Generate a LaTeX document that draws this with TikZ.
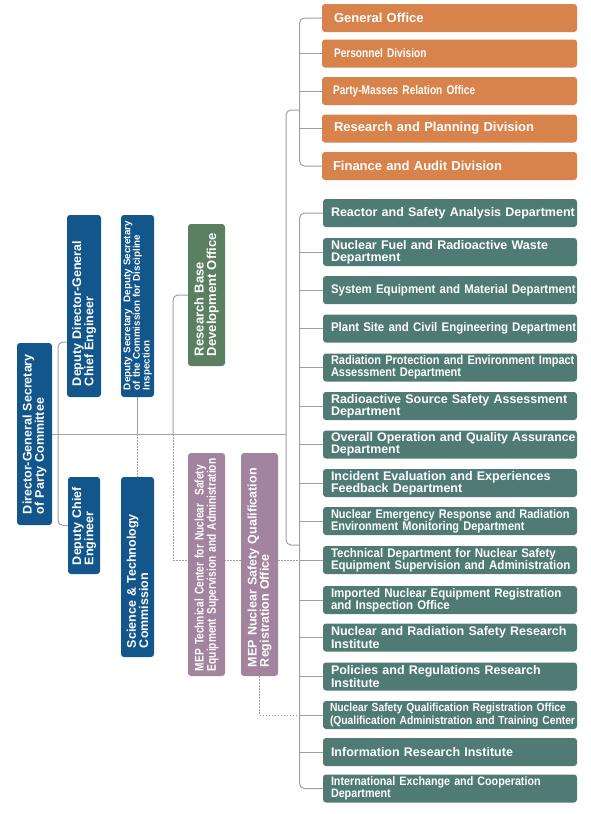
\documentclass[tikz,border=0pt]{standalone}
\usepackage{fontspec}
\setmainfont{Liberation Sans}
\newfontfamily\fnA[FakeStretch=0.92]{Liberation Sans}
\newfontfamily\fnB[FakeStretch=0.88]{Liberation Sans}
\newfontfamily\fnC[FakeStretch=0.81]{Liberation Sans}
\usetikzlibrary{backgrounds}
\definecolor{orng}{HTML}{D8834B}
\definecolor{tealbox}{HTML}{4F7B74}
\definecolor{bluebox}{HTML}{12568C}
\definecolor{greenbox}{HTML}{5B8061}
\definecolor{purplebox}{HTML}{A3849F}
\definecolor{linegray}{HTML}{A0A0A0}
\newcommand\oneline[1]{\mbox{#1}}
\newcommand\twolines[2]{\mbox{#1}\\\mbox{#2}}
\begin{document}
\begin{tikzpicture}[x=1pt,y=-1pt,
  conn/.style={draw=linegray,line width=1pt,rounded corners=5pt},
  dotconn/.style={draw=linegray,line width=1pt,dash pattern=on 1.5pt off 1.5pt},
  fN/.style={font=\fontsize{#1}{12.3}\selectfont\bfseries},
  fA/.style={font=\fontsize{#1}{12.3}\selectfont\fnA\bfseries},
  fB/.style={font=\fontsize{#1}{12.3}\selectfont\fnB\bfseries},
  fC/.style={font=\fontsize{#1}{12.3}\selectfont\fnC\bfseries},
  rbox/.style={rounded corners=3pt,minimum width=254pt,minimum height=28pt,inner ysep=1pt,align=left,text=white},
  obox/.style={rbox,fill=orng,inner xsep=12pt,text width=231pt,minimum width=255pt},
  gbox/.style={rbox,fill=tealbox,inner xsep=8pt,text width=238pt},
  vbox/.style={rotate=90,rounded corners=3pt,align=left,text=white,inner ysep=1pt},
]
\useasboundingbox (0,0) rectangle (591,814);

% orange column
\node[obox,fN=13] (go) at (449.5,18) {\oneline{General Office}};
\node[obox,fC=12.5] (pd) at (449.5,53.5) {\oneline{Personnel Division}};
\node[obox,fC=12.5,inner xsep=11pt,text width=233pt] (pm) at (449.5,91) {\oneline{Party-Masses Relation Office}};
\node[obox,fN=13] (rp) at (449.5,128.5) {\oneline{Research and Planning Division}};
\node[obox,fN=13,inner xsep=11pt,text width=233pt] (fa) at (449.5,166) {\oneline{Finance and Audit Division}};

% teal column
\node[gbox,fN=12.5] (g1) at (450,213) {\oneline{Reactor and Safety Analysis Department}};
\node[gbox,fN=12.5] (g2) at (450,252) {\twolines{Nuclear Fuel and Radioactive Waste}{Department}};
\node[gbox,fA=12.5] (g3) at (450,290) {\oneline{System Equipment and Material Department}};
\node[gbox,fA=12.5] (g4) at (450,328.5) {\oneline{Plant Site and Civil Engineering Department}};
\node[gbox,fB=12.5] (g5) at (450,367.5) {\twolines{Radiation Protection and Environment Impact}{Assessment Department}};
\node[gbox,fN=12.5] (g6) at (450,406) {\twolines{Radioactive Source Safety Assessment}{Department}};
\node[gbox,fN=12.4] (g7) at (450,444.5) {\twolines{Overall Operation and Quality Assurance}{Department}};
\node[gbox,fN=12.5] (g8) at (450,483) {\twolines{Incident Evaluation and Experiences}{Feedback Department}};
\node[gbox,fB=12.5] (g9) at (450,521) {\twolines{Nuclear Emergency Response and Radiation}{Environment Monitoring Department}};
\node[gbox,fA=12.5] (g10) at (450,560) {\twolines{Technical Department for Nuclear Safety}{Equipment Supervision and Administration}};
\node[gbox,fA=12.5] (g11) at (450,600) {\twolines{Imported Nuclear Equipment Registration}{and Inspection Office}};
\node[gbox,fN=12.5] (g12) at (450,637.5) {\twolines{Nuclear and Radiation Safety Research}{Institute}};
\node[gbox,fN=12.5] (g13) at (450,676.5) {\twolines{Policies and Regulations Research}{Institute}};
\node[gbox,fB=11.7,inner xsep=7pt,text width=240pt] (g14) at (450,715) {\twolines{Nuclear Safety Qualification Registration Office}{(Qualification Administration and Training Center )}};
\node[gbox,fN=12.5] (g15) at (450,752) {\oneline{Information Research Institute}};
\node[gbox,fB=12.2] (g16) at (450,788.5) {\twolines{International Exchange and Cooperation}{Department}};

% vertical boxes
\node[vbox,fill=bluebox,fN=12.5,minimum width=182pt,minimum height=35pt,inner xsep=11pt,text width=160pt] (dg) at (34.5,434) {\twolines{Director-General Secretary}{of Party Committee}};
\node[vbox,fill=bluebox,fN=12.5,minimum width=182pt,minimum height=34pt,inner xsep=11pt,text width=160pt] (ddg) at (84,306) {\twolines{Deputy Director-General}{Chief Engineer}};
\node[vbox,fill=bluebox,font=\fontsize{9.8}{9.6}\selectfont\bfseries,minimum width=182pt,minimum height=33pt,inner xsep=7pt,text width=168pt] (dsec) at (137.5,306) {\mbox{Deputy Secretary\ \ Deputy Secretary}\\\mbox{of the Commission for Discipline}\\\mbox{Inspection}};
\node[vbox,fill=greenbox,fN=13,minimum width=142pt,minimum height=37pt,inner xsep=10pt,text width=122pt] (rb) at (206.5,295) {\twolines{Research Base}{Development Office}};
\node[vbox,fill=bluebox,fN=12.5,minimum width=97pt,minimum height=32pt,inner xsep=9pt,text width=79pt] (dce) at (84,525.5) {\twolines{Deputy Chief}{Engineer}};
\node[vbox,fill=bluebox,fN=12.5,minimum width=180pt,minimum height=33pt,inner xsep=9pt,text width=162pt] (stc) at (137.5,567) {\twolines{Science \& Technology}{Commission}};
\node[vbox,fill=purplebox,fC=12.5,minimum width=223pt,minimum height=37pt,inner xsep=5pt,text width=213pt] (mtc) at (206.5,564.5) {\twolines{MEP Technical Center for Nuclear\ \ Safety}{Equipment Supervision and Administration}};
\node[vbox,fill=purplebox,fN=12.5,minimum width=223pt,minimum height=37pt,inner xsep=9pt,text width=205pt] (mnsq) at (259.5,564.5) {\twolines{MEP Nuclear Safety Qualification}{Registration Office}};

\begin{scope}[on background layer]
\fill[white] (0,0) rectangle (591,814);
\coordinate (oj) at (299.5,110);
\coordinate (gj) at (299.5,545);
\coordinate (sb) at (286,545);
\coordinate (hm) at (286,434);
\coordinate (lv) at (58,434);
\coordinate (rbj) at (173,434);
\coordinate (ddga) at (67,342);
\draw[conn] (go.west) -| (oj) |- (fa.west);
\foreach \n in {pd,pm,rp} \draw[conn] (\n.west) -- (\n.west -| oj);
\draw[conn] (oj) -| (sb) -- (gj);
\draw[conn] (g1.west) -| (gj) |- (g16.west);
\foreach \n in {g2,g3,g4,g5,g6,g7,g8,g9,g10,g11,g12,g13,g14,g15} \draw[conn] (\n.west) -- (\n.west -| gj);
\draw[conn] (dg.south) -- (hm);
\draw[conn] (ddga) -| (lv) |- (dce.north);
\draw[conn] (rb.north) -| (rbj);
\draw[dotconn] (rbj) |- (g10.west);
\draw[conn] (dsec.west) -- (dsec.west |- hm);
\draw[dotconn] (dsec.west |- hm) -- (stc.east);
\draw[dotconn] (mnsq.west) |- (g14.west);
\end{scope}
\end{tikzpicture}
\end{document}
